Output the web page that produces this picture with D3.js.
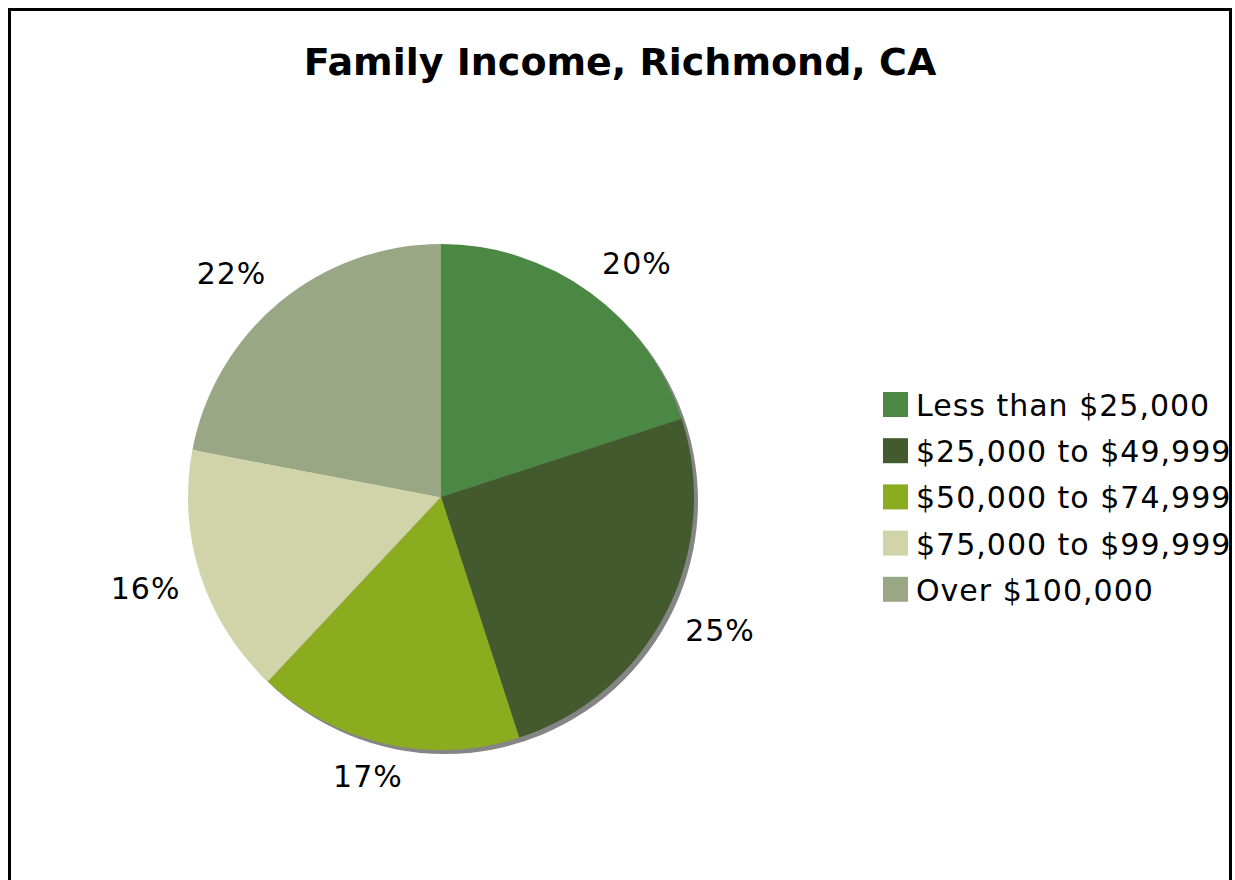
<!DOCTYPE html>
<html>
<head>
<meta charset="utf-8">
<script src="https://cdn.jsdelivr.net/npm/d3@7"></script>
<style>
  html, body { margin: 0; padding: 0; background: #fff; }
  svg { display: block; }
  text { font-family: Verdana, "DejaVu Sans", sans-serif; fill: #000; }
</style>
</head>
<body>
<svg id="chart" width="1235" height="880"></svg>
<script>
// Family income brackets and their shares (percent)
const categories = [
  "Less than $25,000",
  "$25,000 to $49,999",
  "$50,000 to $74,999",
  "$75,000 to $99,999",
  "Over $100,000"
];
const shares = [20, 25, 17, 16, 22];
const sliceColors = ["#4b8843", "#425a2e", "#8aac1e", "#d1d4a9", "#99a784"];
const chartTitle = "Family Income, Richmond, CA";

const W = 1235, H = 880;
const svg = d3.select("#chart");

// outer frame (runs past the bottom edge of the page)
svg.append("rect")
  .attr("x", 9.5).attr("y", 9.5)
  .attr("width", 1221).attr("height", 1000)
  .attr("fill", "#fff")
  .attr("stroke", "#000").attr("stroke-width", 3);

svg.append("text")
  .attr("x", 620).attr("y", 75)
  .attr("text-anchor", "middle")
  .style("font-size", "38px")
  .style("font-weight", "bold")
  .text(chartTitle);

const cx = 441, cy = 497, R = 253;

const data = categories.map((c, i) => ({ cat: c, value: shares[i], color: sliceColors[i] }));
const pie = d3.pie().value(d => d.value).sort(null);
const arcs = pie(data);
const arc = d3.arc().innerRadius(0).outerRadius(R);
const labelR = 274;

const g = svg.append("g").attr("transform", `translate(${cx},${cy})`);

// drop shadow behind the pie
g.append("circle")
  .attr("cx", 4).attr("cy", 4).attr("r", R)
  .attr("fill", "#858585");

g.selectAll("path.slice")
  .data(arcs)
  .join("path")
  .attr("class", "slice")
  .attr("d", arc)
  .attr("fill", d => d.data.color);

// percentage labels: the label box sits just outside a ring, pushed away from the pie
const clampUnit = v => Math.max(-1, Math.min(1, v));
g.selectAll("text.pct")
  .data(arcs)
  .join("text")
  .attr("class", "pct")
  .attr("text-anchor", "middle")
  .attr("dominant-baseline", "central")
  .style("font-size", "30px")
  .style("letter-spacing", "1px")
  .text(d => d.data.value + "%")
  .each(function (d) {
    const a = (d.startAngle + d.endAngle) / 2;
    const s = Math.sin(a), c = Math.cos(a);
    const bw = this.getBBox().width, bh = 24;
    const x = labelR * s + (bw / 2) * clampUnit(s * 1.75);
    const y = -labelR * c - (bh / 2) * clampUnit(c * 1.75);
    d3.select(this).attr("transform", `translate(${x},${y})`);
  });

// legend, clipped by the frame's right edge
svg.append("clipPath").attr("id", "legendClip")
  .append("rect").attr("x", 0).attr("y", 0).attr("width", 1229).attr("height", H);

const legend = svg.append("g").attr("clip-path", "url(#legendClip)");
const rowY = d3.scaleBand().domain(categories).range([392, 392 + 46.2 * 5]);

const rows = legend.selectAll("g.row")
  .data(data)
  .join("g")
  .attr("class", "row")
  .attr("transform", d => `translate(883,${rowY(d.cat)})`);

rows.append("rect")
  .attr("width", 25).attr("height", 25)
  .attr("fill", d => d.color);

rows.append("text")
  .attr("x", 33).attr("y", 24)
  .style("font-size", "30px")
  .style("letter-spacing", "1px")
  .text(d => d.cat);
</script>
</body>
</html>
